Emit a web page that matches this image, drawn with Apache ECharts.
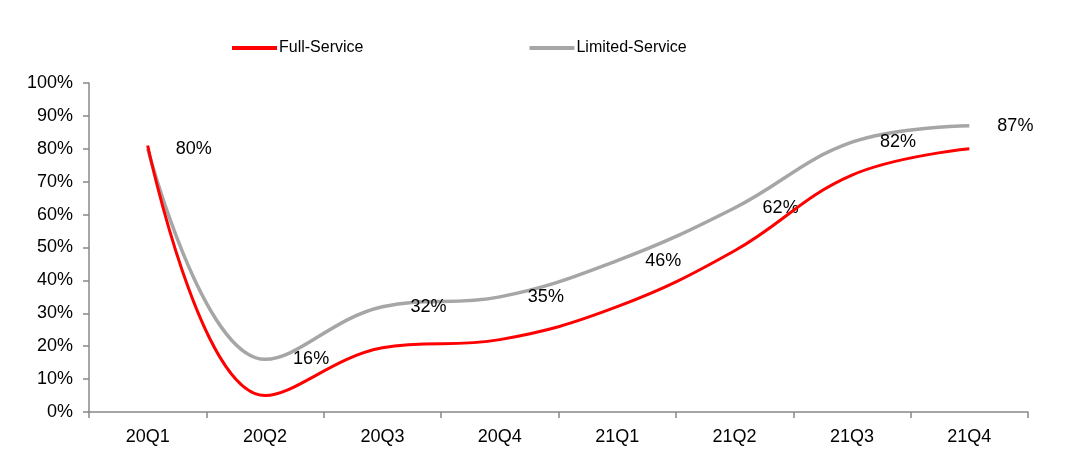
<!DOCTYPE html>
<html><head><meta charset="utf-8">
<script src="https://cdn.jsdelivr.net/npm/echarts@6/dist/echarts.min.js"></script>
<style>html,body{margin:0;padding:0;background:#fff}#c{width:1080px;height:472px}</style>
</head><body><div id="c"></div>
<script>
const categories = ['20Q1','20Q2','20Q3','20Q4','21Q1','21Q2','21Q3','21Q4'];
const fullService = [81, 5, 19.5, 22, 32, 49, 72, 80];
const limitedService = [80, 16, 32, 35, 46, 62, 82, 87];
const yTicks = [0,10,20,30,40,50,60,70,80,90,100];

const font = 'Liberation Sans, Arial, sans-serif';
const chart = echarts.init(document.getElementById('c'));
chart.setOption({
  animation: false,
  textStyle: {fontFamily: font},
  legend: {
    left: 227, top: 35, itemWidth: 45, itemHeight: 4, itemGap: 166,
    icon: 'rect',
    textStyle: {fontSize: 16, color: '#000', fontFamily: font, padding: [0,0,0,-3]},
    data: ['Full-Service', 'Limited-Service']
  },
  grid: {left: 89, right: 52, top: 83, bottom: 60},
  xAxis: {
    type: 'category', data: categories, boundaryGap: true,
    axisLine: {lineStyle: {color: '#888', width: 1.5}},
    axisTick: {show: true, length: 6, lineStyle: {color: '#888', width: 1.5}},
    axisLabel: {color: '#000', fontSize: 18, margin: 16, fontFamily: font}
  },
  yAxis: {
    type: 'value', min: 0, max: 100, interval: 10,
    axisLine: {show: true, lineStyle: {color: '#888', width: 1.5}},
    axisTick: {show: true, length: 6, lineStyle: {color: '#888', width: 1.5}},
    splitLine: {show: false},
    axisLabel: {color: '#000', fontSize: 18, margin: 16, fontFamily: font,
      formatter: v => yTicks.includes(v) ? v + '%' : ''}
  },
  series: [
    {
      name: 'Full-Service', type: 'line', data: fullService, smooth: 0.4,
      symbol: 'none', itemStyle: {color: '#FF0000'},
      lineStyle: {color: '#FF0000', width: 3}, z: 3
    },
    {
      name: 'Limited-Service', type: 'line', data: limitedService, smooth: 0.4,
      symbol: 'circle', symbolSize: 0.1, showSymbol: true, itemStyle: {color: '#A6A6A6'},
      lineStyle: {color: '#A6A6A6', width: 3.5}, z: 2,
      label: {show: true, position: 'right', distance: 28, color: '#000', fontSize: 18,
        fontFamily: font, formatter: p => Math.round(p.value) + '%'}
    }
  ]
});
</script></body></html>
